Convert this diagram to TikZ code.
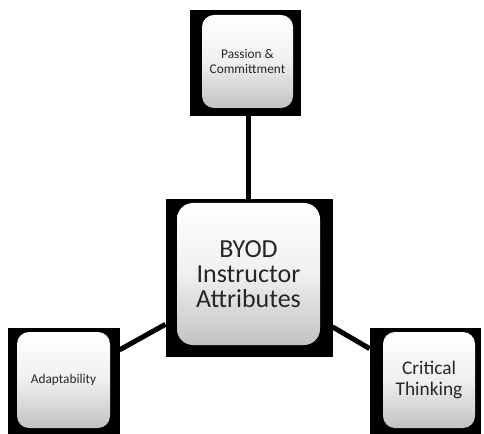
\documentclass[tikz,border=0pt]{standalone}
\usepackage{fontspec}
\setmainfont{Carlito}

\tikzset{every picture/.style={line width=0.75pt}}
\tikzset{
  blackbox/.style={fill=black, draw=none, inner sep=0pt},
  whitebox/.style={draw=none, rounded corners=9pt, top color=white, bottom color=black!24, middle color=black!6, inner sep=0pt, align=center, text=black!85},
  link/.style={draw=black, line width=3.75pt}
}

\begin{document}
\begin{tikzpicture}[x=0.75pt,y=0.75pt,yscale=-1,xscale=1]
\useasboundingbox (0,0) rectangle (484,434);

%Shape: Square
\node [blackbox, minimum width=83.25pt, minimum height=79.5pt] (passionbg) at (245.5,63) {};
%Shape: Square
\node [blackbox, minimum width=124.5pt, minimum height=117pt] (byodbg) at (249,278) {};
%Shape: Square
\node [blackbox, minimum width=83.25pt, minimum height=79.5pt] (adaptbg) at (63.5,381) {};
%Shape: Square
\node [blackbox, minimum width=82.5pt, minimum height=79.5pt] (criticalbg) at (425,381) {};

%Straight Lines
\draw [link] (byodbg.north -| 248,0) -- (passionbg.south -| 248,0) ;
%Straight Lines
\draw [link] (byodbg) -- (adaptbg) ;
%Straight Lines
\draw [link] (byodbg) -- (criticalbg) ;
%Redraw squares over the lines
\fill [black] (byodbg.south west) rectangle (byodbg.north east) ;
\fill [black] (adaptbg.south west) rectangle (adaptbg.north east) ;
\fill [black] (criticalbg.south west) rectangle (criticalbg.north east) ;

% Text Node
\node [whitebox, minimum width=68.25pt, minimum height=69.75pt, font=\fontsize{10}{11.5}\selectfont] (passion) at (247.5,61.5) {Passion \&\\Committment};
% Text Node
\node [whitebox, rounded corners=12pt, minimum width=107.25pt, minimum height=106.5pt, font=\fontsize{19.5}{19}\selectfont] (byod) at (248.5,274) {BYOD\\Instructor\\Attributes};
% Text Node
\node [whitebox, minimum width=69.75pt, minimum height=72pt, font=\fontsize{10}{11.5}\selectfont] (adapt) at (63.5,380) {Adaptability};
% Text Node
\node [whitebox, minimum width=69pt, minimum height=72pt, font=\fontsize{14.5}{15.5}\selectfont] (critical) at (429,380) {Critical\\Thinking};

\end{tikzpicture}
\end{document}
